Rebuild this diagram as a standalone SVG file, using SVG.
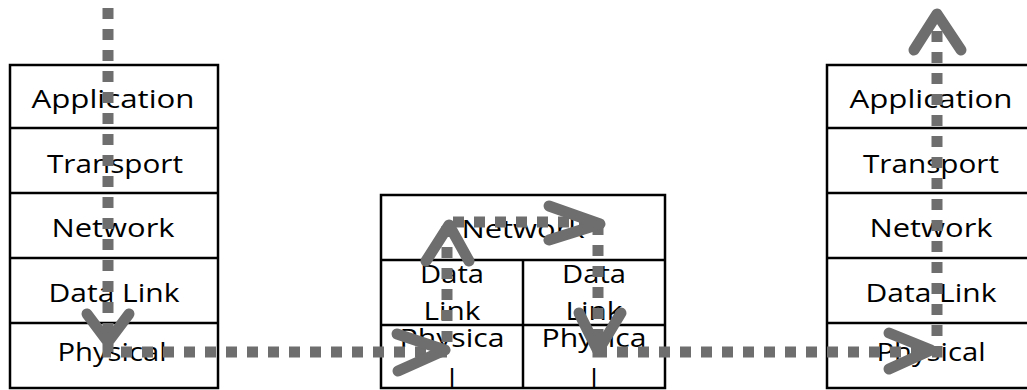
<svg xmlns="http://www.w3.org/2000/svg" width="1027" height="390" viewBox="0 0 1027 390">
<style>
.box{fill:#fff;stroke:#000;stroke-width:2.5}
.ln{stroke:#000;stroke-width:2.5}
.t{font-family:"Open Sans","Noto Sans",sans-serif;font-size:26px;fill:#000;text-anchor:middle}
.dash{fill:none;stroke:#6e6e6e;stroke-width:11;stroke-dasharray:11 10}
.chev{fill:none;stroke:#6e6e6e;stroke-width:11;stroke-linecap:round;stroke-linejoin:round}
</style>
<rect width="1027" height="390" fill="#fff"/>
<g id="host-left">
<rect class="box" x="10" y="65" width="208" height="323"/>
<line class="ln" x1="10" y1="128" x2="218" y2="128"/>
<line class="ln" x1="10" y1="193" x2="218" y2="193"/>
<line class="ln" x1="10" y1="258" x2="218" y2="258"/>
<line class="ln" x1="10" y1="323" x2="218" y2="323"/>
<text class="t" x="113" y="108" textLength="163" lengthAdjust="spacingAndGlyphs">Application</text>
<text class="t" x="115" y="173" textLength="136" lengthAdjust="spacingAndGlyphs">Transport</text>
<text class="t" x="113" y="237" textLength="123" lengthAdjust="spacingAndGlyphs">Network</text>
<text class="t" x="114" y="302" textLength="131" lengthAdjust="spacingAndGlyphs">Data Link</text>
<text class="t" x="112" y="361" textLength="109" lengthAdjust="spacingAndGlyphs">Physical</text>
</g>
<g id="router">
<rect class="box" x="381" y="195" width="284" height="193"/>
<line class="ln" x1="381" y1="260" x2="665" y2="260"/>
<line class="ln" x1="381" y1="325" x2="665" y2="325"/>
<line class="ln" x1="523" y1="260" x2="523" y2="388"/>
<text class="t" x="523" y="238" textLength="123" lengthAdjust="spacingAndGlyphs">Network</text>
<text class="t" x="452" y="283" textLength="64" lengthAdjust="spacingAndGlyphs">Data</text>
<text class="t" x="452" y="320" textLength="57" lengthAdjust="spacingAndGlyphs">Link</text>
<text class="t" x="452" y="347" textLength="105" lengthAdjust="spacingAndGlyphs">Physica</text>
<text class="t" x="452" y="387">l</text>
<text class="t" x="594" y="283" textLength="64" lengthAdjust="spacingAndGlyphs">Data</text>
<text class="t" x="594" y="320" textLength="57" lengthAdjust="spacingAndGlyphs">Link</text>
<text class="t" x="594" y="347" textLength="105" lengthAdjust="spacingAndGlyphs">Physica</text>
<text class="t" x="594" y="387">l</text>
</g>
<g id="host-right">
<rect class="box" x="827" y="65" width="210" height="323"/>
<line class="ln" x1="827" y1="128" x2="1037" y2="128"/>
<line class="ln" x1="827" y1="193" x2="1037" y2="193"/>
<line class="ln" x1="827" y1="258" x2="1037" y2="258"/>
<line class="ln" x1="827" y1="323" x2="1037" y2="323"/>
<text class="t" x="931" y="108" textLength="163" lengthAdjust="spacingAndGlyphs">Application</text>
<text class="t" x="931" y="173" textLength="136" lengthAdjust="spacingAndGlyphs">Transport</text>
<text class="t" x="931" y="237" textLength="123" lengthAdjust="spacingAndGlyphs">Network</text>
<text class="t" x="931" y="302" textLength="131" lengthAdjust="spacingAndGlyphs">Data Link</text>
<text class="t" x="931" y="361" textLength="109" lengthAdjust="spacingAndGlyphs">Physical</text>
</g>
<g id="connectors">
<path class="dash" d="M108 8 V352 H447 V222 H598 V352 H937 V30"/>
<polyline class="chev" points="87,314 108,342 129,314"/>
<polyline class="chev" points="397,334 445,350 398,371"/>
<polyline class="chev" points="426,261 449,225 469,261"/>
<polyline class="chev" points="549,206 600,224 549,240"/>
<polyline class="chev" points="579,313 598,351 621,313"/>
<polyline class="chev" points="889,333 931,350 889,369"/>
<polyline class="chev" points="914,50 937,14 961,50"/>
</g>
</svg>
